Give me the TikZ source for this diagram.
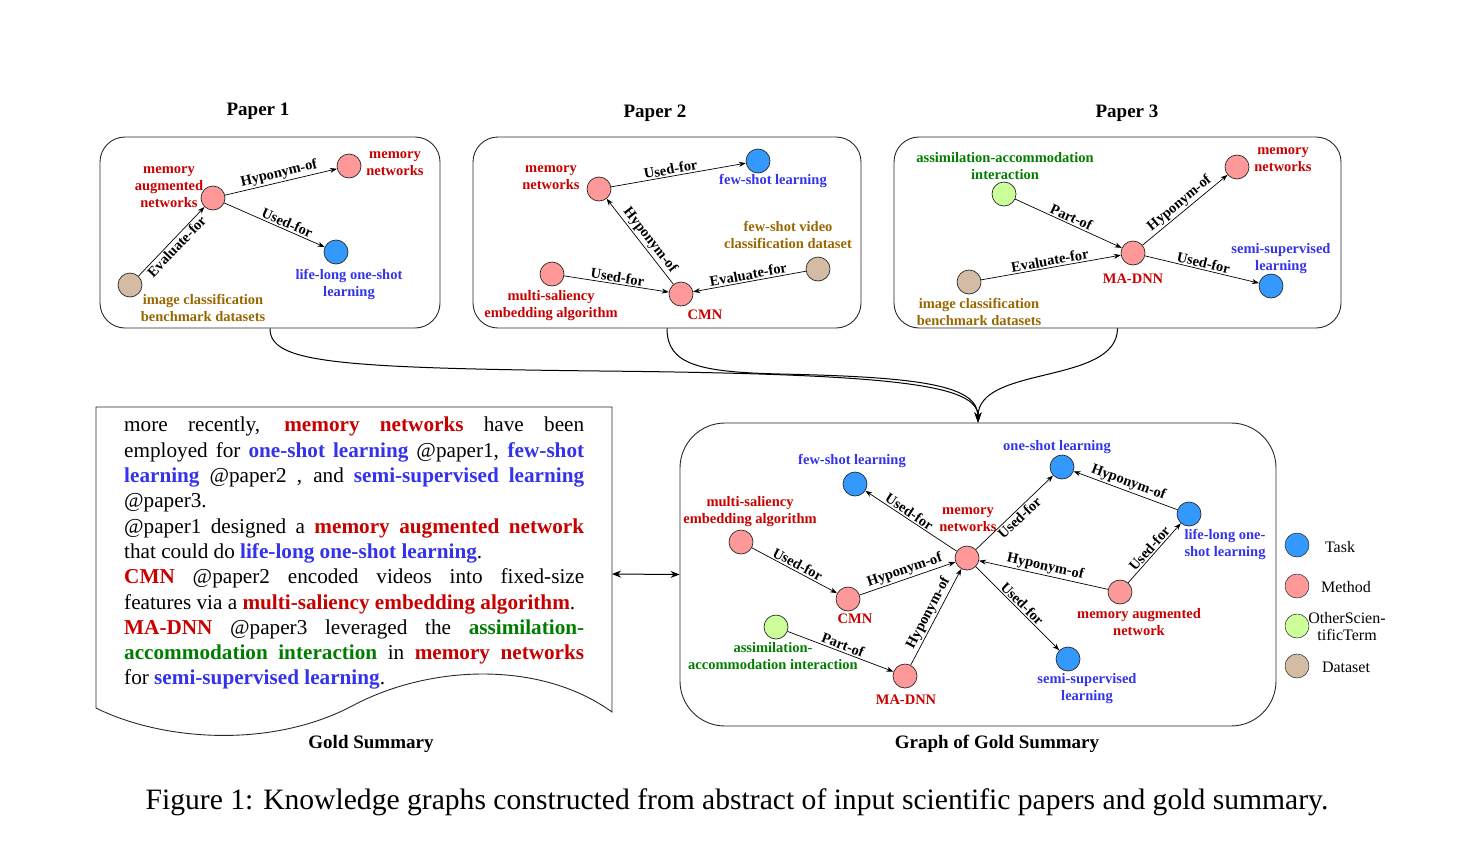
\documentclass[tikz,border=0pt]{standalone}
\usepackage{fontspec}
\setmainfont{Liberation Serif}
\usetikzlibrary{
    arrows.meta,
    positioning
}
\definecolor{taskfill}{RGB}{51,153,255}
\definecolor{methodfill}{RGB}{255,153,153}
\definecolor{otherfill}{RGB}{204,255,153}
\definecolor{datafill}{RGB}{212,187,163}
\definecolor{tasktext}{RGB}{51,51,235}
\definecolor{methodtext}{RGB}{200,0,0}
\definecolor{othertext}{RGB}{0,125,0}
\definecolor{datatext}{RGB}{153,102,0}
\definecolor{kgline}{RGB}{40,40,40}

\newcommand{\lblfont}{\fontsize{14.5}{17}\selectfont\bfseries}
\newcommand{\tasktxt}[1]{\textbf{\color{tasktext}#1}}
\newcommand{\methodtxt}[1]{\textbf{\color{methodtext}#1}}
\newcommand{\othertxt}[1]{\textbf{\color{othertext}#1}}

\begin{document}
\begin{tikzpicture}[
    x=1pt,
    y=-1pt,
    paperbox/.style={
        draw=kgline,
        line width=0.9pt,
        rounded corners=25pt,
        minimum height=191pt
    },
    graphbox/.style={
        draw=kgline,
        line width=0.9pt,
        rounded corners=45pt,
        minimum width=596pt,
        minimum height=303pt
    },
    entity/.style={
        circle,
        draw=kgline,
        line width=0.7pt,
        minimum size=24pt,
        inner sep=0pt
    },
    task/.style={entity, fill=taskfill},
    method/.style={entity, fill=methodfill},
    other/.style={entity, fill=otherfill},
    dataset/.style={entity, fill=datafill},
    entlabel/.style={font=\lblfont, align=center, inner sep=0pt},
    tasklabel/.style={entlabel, text=tasktext},
    methodlabel/.style={entlabel, text=methodtext},
    otherlabel/.style={entlabel, text=othertext},
    datalabel/.style={entlabel, text=datatext},
    rel/.style={
        -{Stealth[length=7pt,width=5pt]},
        line width=0.7pt,
        draw=black
    },
    rellabel/.style={font=\lblfont, sloped, inner sep=1.5pt},
    feed/.style={
        -{Stealth[length=10pt,width=7pt]},
        line width=1pt
    },
    title/.style={font=\fontsize{19}{22}\selectfont\bfseries},
    legendtext/.style={font=\fontsize{16}{17}\selectfont, align=center, inner sep=0pt}
]
\useasboundingbox (0,0) rectangle (1474,846);

% Paper 1
\node[title] (title1) at (258,111) {Paper 1};
\node[paperbox, minimum width=340pt] (box1) at (270,232.5) {};
\node[method] (p1man) at (213,198) {};
\node[method] (p1mn) at (349,166) {};
\node[task] (p1lol) at (336,252) {};
\node[dataset] (p1icb) at (130,285) {};
\node[methodlabel] (p1manl) at (169,187) {memory\\augmented\\networks};
\node[methodlabel] (p1mnl) at (395,164) {memory\\networks};
\node[tasklabel] (p1loll) at (349,284) {life-long one-shot\\learning};
\node[datalabel] (p1icbl) at (203,308) {image classification\\benchmark datasets};
\draw[rel] (p1man) -- node[rellabel, above] {Hyponym-of} (p1mn);
\draw[rel] (p1man) -- node[rellabel, above, pos=0.6] {Used-for} (p1lol);
\draw[rel] (p1icb) -- node[rellabel, below] {Evaluate-for} (p1man);

% Paper 2
\node[title] (title2) at (655,113) {Paper 2};
\node[paperbox, minimum width=388pt] (box2) at (667,232.5) {};
\node[method] (p2mn) at (599,189) {};
\node[task] (p2fsl) at (758,161) {};
\node[method] (p2msa) at (552,274) {};
\node[method] (p2cmn) at (681,294) {};
\node[dataset] (p2fsv) at (818,269) {};
\node[methodlabel] (p2mnl) at (551,178) {memory\\networks};
\node[tasklabel] (p2fsll) at (773,181) {few-shot learning};
\node[methodlabel] (p2msal) at (551,306) {multi-saliency\\embedding algorithm};
\node[methodlabel] (p2cmnl) at (705,315) {CMN};
\node[datalabel] (p2fsvl) at (788,235) {few-shot video\\classification dataset};
\draw[rel] (p2mn) -- node[rellabel, above, pos=0.45] {Used-for} (p2fsl);
\draw[rel] (p2msa) -- node[rellabel, above] {Used-for} (p2cmn);
\draw[rel] (p2cmn) -- node[rellabel, above, pos=0.45] {Hyponym-of} (p2mn);
\draw[rel] (p2fsv) -- node[rellabel, above] {Evaluate-for} (p2cmn);

% Paper 3
\node[title] (title3) at (1127,113) {Paper 3};
\node[paperbox, minimum width=447pt] (box3) at (1117.5,232.5) {};
\node[other] (p3aai) at (1004,194) {};
\node[method] (p3mad) at (1133,253) {};
\node[method] (p3mn) at (1237,167) {};
\node[task] (p3ssl) at (1271,286) {};
\node[dataset] (p3icb) at (969,282) {};
\node[otherlabel] (p3aail) at (1005,166) {assimilation-accommodation\\interaction};
\node[methodlabel] (p3madl) at (1133,279) {MA-DNN};
\node[methodlabel] (p3mnl) at (1283,160) {memory\\networks};
\node[tasklabel] (p3ssll) at (1281,259) {semi-supervised\\learning};
\node[datalabel] (p3icbl) at (979,312) {image classification\\benchmark datasets};
\draw[rel] (p3aai) -- node[rellabel, above] {Part-of} (p3mad);
\draw[rel] (p3icb) -- node[rellabel, above] {Evaluate-for} (p3mad);
\draw[rel] (p3mad) -- node[rellabel, above] {Hyponym-of} (p3mn);
\draw[rel] (p3mad) -- node[rellabel, above] {Used-for} (p3ssl);

% Gold summary
\draw[draw=kgline, line width=0.9pt] (96,407) -- (612,407) -- (612,712)
    .. controls (540,660) and (430,665) .. (354,705)
    .. controls (270,750) and (160,740) .. (96,708) -- cycle;
\coordinate (docright) at (612,574);
\node[
    anchor=north west,
    inner sep=0pt,
    text width=460pt,
    align=justify,
    font=\fontsize{21.2}{25.3}\selectfont,
    execute at begin node={\setlength{\parindent}{0pt}\hbadness=10000}
] (summary) at (124,417) {%
more recently, \methodtxt{memory networks} have been\linebreak
employed for \tasktxt{one-shot learning} @paper1, \tasktxt{few-shot}\linebreak
\tasktxt{learning} @paper2 , and \tasktxt{semi-supervised learning}\linebreak
@paper3.\par
@paper1 designed a \methodtxt{memory augmented network}\linebreak
that could do \tasktxt{life-long one-shot learning}.\par
\methodtxt{CMN} @paper2 encoded videos into fixed-size\linebreak
features via a \methodtxt{multi-saliency embedding algorithm}.\par
\methodtxt{MA-DNN} @paper3 leveraged the \othertxt{assimilation-}\linebreak
\othertxt{accommodation interaction} in \methodtxt{memory networks}\linebreak
for \tasktxt{semi-supervised learning}.};
\node[title] (goldtitle) at (371,744) {Gold Summary};

% Graph of gold summary
\node[graphbox] (graph) at (978,574.5) {};
\node[title] (graphtitle) at (997,744) {Graph of Gold Summary};
\node[task] (gfsl) at (855,484) {};
\node[method] (gmsa) at (741,542) {};
\node[method] (gcmn) at (848,599) {};
\node[other] (gaai) at (776,627) {};
\node[method] (gmad) at (905,676) {};
\node[method] (gmn) at (967,558) {};
\node[task] (gosl) at (1062,467) {};
\node[task] (glol) at (1189,514) {};
\node[method] (gmau) at (1120,592) {};
\node[task] (gssl) at (1068,659) {};
\node[tasklabel] (gfsll) at (852,461) {few-shot learning};
\node[methodlabel] (gmsal) at (750,512) {multi-saliency\\embedding algorithm};
\node[methodlabel] (gcmnl) at (855,619) {CMN};
\node[otherlabel] (gaail) at (773,656) {assimilation-\\accommodation interaction};
\node[methodlabel] (gmadl) at (906,700) {MA-DNN};
\node[methodlabel] (gmnl) at (968,520) {memory\\networks};
\node[tasklabel] (gosll) at (1057,447) {one-shot learning};
\node[tasklabel] (glols) at (1225,544) {life-long one-\\shot learning};
\node[methodlabel] (gmaul) at (1139,622) {memory augmented\\network};
\node[tasklabel] (gssll) at (1087,689) {semi-supervised\\learning};
\draw[rel] (gmsa) -- node[rellabel, above] {Used-for} (gcmn);
\draw[rel] (gcmn) -- node[rellabel, above] {Hyponym-of} (gmn);
\draw[rel] (gaai) -- node[rellabel, above] {Part-of} (gmad);
\draw[rel] (gmad) -- node[rellabel, above] {Hyponym-of} (gmn);
\draw[rel] (gmn) -- node[rellabel, above, pos=0.56] {Used-for} (gfsl);
\draw[rel] (gmn) -- node[rellabel, below] {Used-for} (gosl);
\draw[rel] (gmn) -- node[rellabel, above] {Used-for} (gssl);
\draw[rel] (glol) -- node[rellabel, above] {Hyponym-of} (gosl);
\draw[rel] (gmau) -- node[rellabel, above] {Hyponym-of} (gmn);
\draw[rel] (gmau) -- node[rellabel, above] {Used-for} (glol);

% Legend
\node[task, line width=0.5pt] (legtask) at (1297,545) {};
\node[method, line width=0.5pt] (legmethod) at (1297,586) {};
\node[other, line width=0.5pt] (legother) at (1297,626) {};
\node[dataset, line width=0.5pt] (legdata) at (1297,666) {};
\node[legendtext] (legtaskl) at (1340,547) {Task};
\node[legendtext] (legmethodl) at (1346,587) {Method};
\node[legendtext] (legotherl) at (1347,627) {OtherScien-\\tificTerm};
\node[legendtext] (legdatal) at (1346,667) {Dataset};

% Connectors
\draw[feed] (box1.south) .. controls (270,362) and (330,368) .. (600,371)
    .. controls (900,374) and (978,385) .. (graph.north);
\draw[feed] (box2.south) .. controls (667,365) and (700,372) .. (780,374)
    .. controls (920,377) and (978,385) .. (graph.north);
\draw[feed] (box3.south) .. controls (1117,385) and (978,365) .. (graph.north);
\draw[{Stealth[length=9pt,width=7pt]}-{Stealth[length=9pt,width=7pt]}, line width=1pt] (docright) -- (graph.west);

\node[font=\fontsize{29.6}{34}\selectfont] (caption) at (737,802)
    {Figure 1: Knowledge graphs constructed from abstract of input scientific papers and gold summary.};
\end{tikzpicture}
\end{document}
